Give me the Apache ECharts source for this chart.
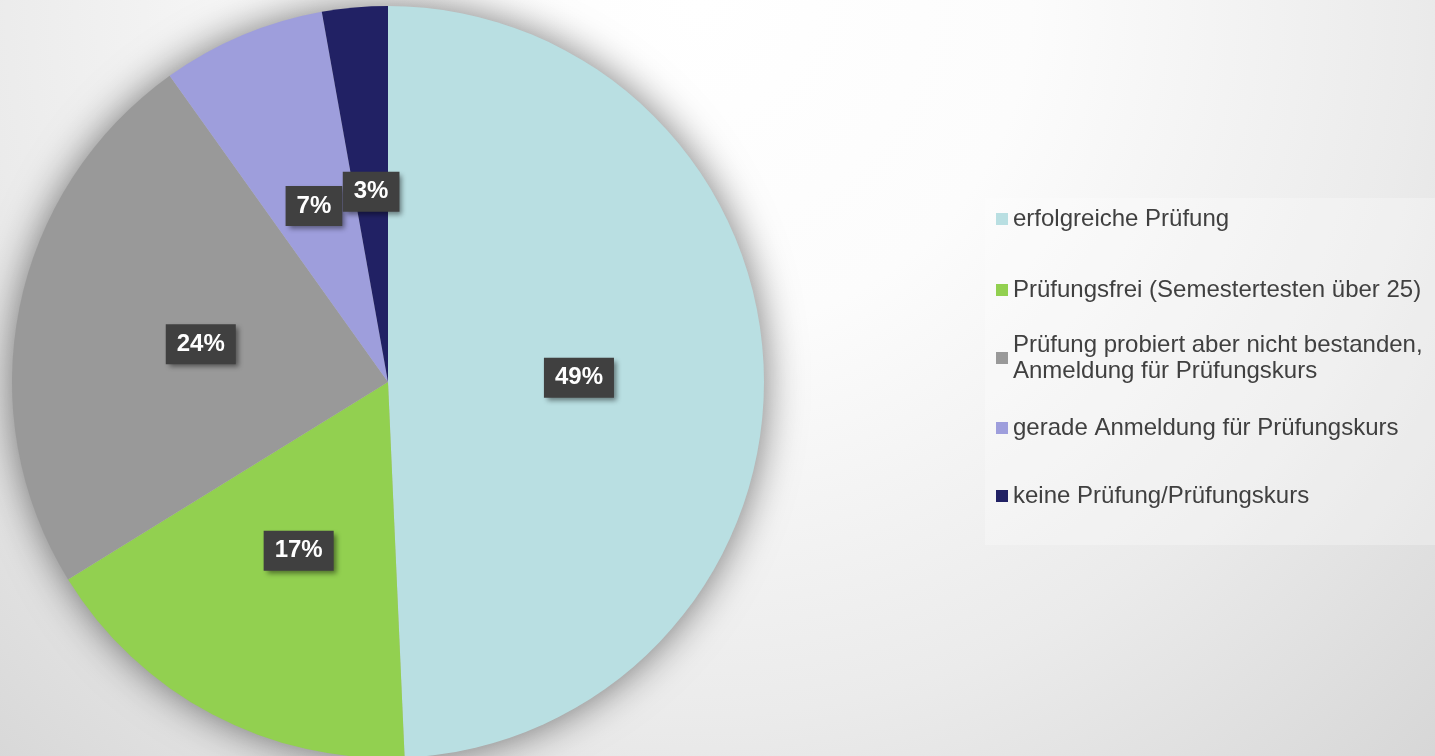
<!DOCTYPE html>
<html>
<head>
<meta charset="utf-8">
<script src="https://cdn.jsdelivr.net/npm/echarts@6/dist/echarts.min.js"></script>
<style>
  html, body { margin: 0; padding: 0; }
  #main { width: 1435px; height: 756px; }
</style>
</head>
<body>
<div id="main"></div>
<script>
// Kategorien (Legende) und Anzahl
var categories = [
  'erfolgreiche Prüfung',
  'Prüfungsfrei (Semestertesten über 25)',
  'Prüfung probiert aber nicht bestanden,\nAnmeldung für Prüfungskurs',
  'gerade Anmeldung für Prüfungskurs',
  'keine Prüfung/Prüfungskurs'
]
var counts = [35, 12, 17, 5, 2]
var colors = ['#b9dfe2', '#92d050', '#999999', '#9e9edc', '#212164']
// Legendenposition je Eintrag (top)
var legendTops = [206, 277, 319, 415, 483]

var chart = echarts.init(document.getElementById('main'))

var pieData = categories.map(function (name, i) {
  return { name: name, value: counts[i], itemStyle: { color: colors[i] } }
})

var legends = categories.map(function (name, i) {
  var twoLines = name.indexOf('\n') >= 0
  return {
    left: 996,
    top: legendTops[i],
    padding: 0,
    orient: 'vertical',
    icon: 'rect',
    itemWidth: 12,
    itemHeight: 12,
    selectedMode: false,
    data: [name],
    textStyle: {
      fontFamily: 'Liberation Sans, Arial, sans-serif',
      fontSize: 24,
      lineHeight: 26,
      color: '#404040',
      padding: twoLines ? [26, 0, 0, 0] : 0
    }
  }
})

var option = {
  backgroundColor: new echarts.graphic.RadialGradient(700, 0, 1100, [
    { offset: 0, color: '#ffffff' },
    { offset: 0.3, color: '#fcfcfc' },
    { offset: 0.65, color: '#ebebeb' },
    { offset: 1, color: '#d4d4d4' }
  ], true),
  animation: false,
  graphic: [
    {
      type: 'rect',
      left: 985,
      top: 198,
      shape: { width: 450, height: 347 },
      style: { fill: 'rgba(255,255,255,0.28)' },
      z: -1
    }
  ],
  legend: legends,
  series: [
    {
      // Schatten hinter dem Kreis
      type: 'pie',
      silent: true,
      center: [388, 382],
      radius: 375,
      label: { show: false },
      data: [{ value: 1, itemStyle: { color: '#bbbbbb', shadowBlur: 40, shadowColor: 'rgba(0,0,0,0.55)' } }],
      z: 1
    },
    {
      name: 'Prüfung',
      type: 'pie',
      center: [388, 382],
      radius: 376,
      startAngle: 90,
      clockwise: true,
      percentPrecision: 0,
      z: 2,
      label: {
        show: true,
        position: 'inside',
        formatter: '{d}%',
        fontFamily: 'Liberation Sans, Arial, sans-serif',
        fontSize: 24,
        fontWeight: 'bold',
        color: '#ffffff',
        lineHeight: 28,
        backgroundColor: '#404040',
        padding: [7, 11, 5, 11],
        shadowBlur: 5,
        shadowOffsetX: 3,
        shadowOffsetY: 3,
        shadowColor: 'rgba(0,0,0,0.45)'
      },
      labelLine: { show: false },
      emphasis: { disabled: true },
      data: pieData
    }
  ]
}

chart.setOption(option)
</script>
</body>
</html>
